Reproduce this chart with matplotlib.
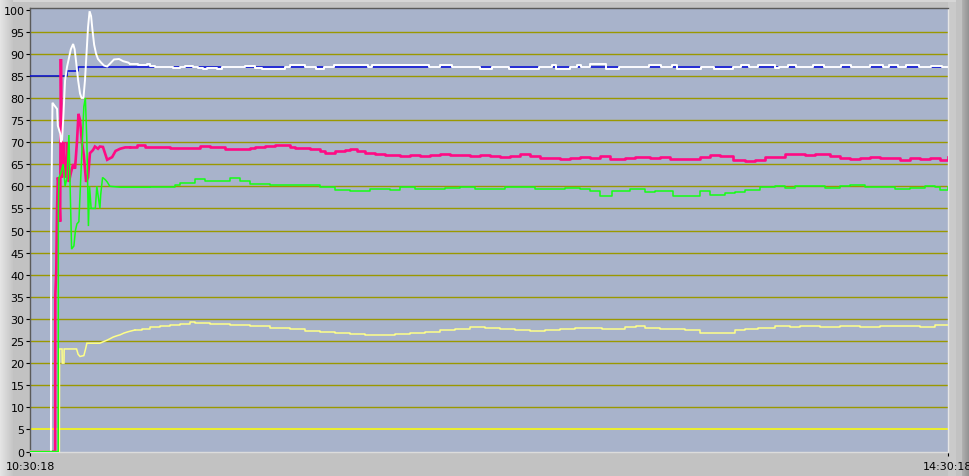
import numpy as np
import matplotlib
matplotlib.use("Agg")
import matplotlib.pyplot as plt

# ---------------- data (time in minutes after 10:30:18) ----------------
x_tick_minutes = [0, 240]
x_tick_labels = ["10:30:18", "14:30:18"]
y_ticks = list(range(0, 101, 5))
grid_levels = list(range(10, 100, 5))
limit_level = 5
transient_end = 26.0   # start-up part drawn as a continuous trace, rest as steps

blue_t = [0, 9.5, 12.4, 240]
blue_v = [85, 86, 87, 87]

white_t = [0, 5.4, 5.45, 5.8, 6.3, 7.0, 7.2, 7.8, 8.0, 8.3, 8.6, 9.1, 9.6, 10.1, 10.6, 11.2,
           11.6, 12.0, 12.5, 13.0, 13.4, 13.9, 14.3, 14.7, 15.1, 15.5, 15.9, 16.3, 16.7,
           17.2, 17.7, 18.5, 19.3, 20.1, 20.9, 21.9, 23.2, 24.3, 25.6,
           26.1, 28.2, 30.5, 31.3, 32.6, 37.3, 39.2, 40.5, 42.6, 43.9, 45.2, 46.2, 48.8,
           50.1, 56.2, 58.8, 60.6, 66.6, 67.9, 71.9, 74.7, 76.8, 79.4, 88.3, 89.4, 91.7,
           97.2, 104.3, 107.2, 110.3, 117.6, 120.8, 125.2, 133.1, 136.5, 137.5, 141.2,
           143.0, 144.1, 146.4, 150.6, 154.0, 161.9, 165.0, 167.9, 169.2, 175.4, 178.9,
           183.8, 185.9, 188.0, 190.4, 194.8, 195.9, 198.2, 200.3, 204.7, 207.6, 212.1,
           214.7, 219.7, 223.1, 224.6, 227.0, 229.1, 232.5, 235.6, 238.5, 240]
white_v = [0, 0, 51.5, 78.9, 78.3, 77.5, 73.7, 72, 70, 70.5, 75, 84, 87, 89, 91, 92.2,
           91, 88, 84, 81, 80, 80, 84, 90, 96, 99.6, 98.5, 95, 92,
           90, 88.8, 88, 87.3, 87.1, 87.8, 88.7, 88.8, 88.3, 88.0,
           87.7, 87.5, 87.6, 87.3, 87.0, 86.75, 87.0, 87.3, 87.0, 86.75, 86.6, 86.8, 86.6,
           87.0, 87.2, 86.75, 86.6, 87.0, 87.35, 87.0, 86.6, 87.0, 87.35, 87.0, 87.5, 87.35,
           87.5, 87.0, 87.5, 87.0, 86.6, 87.0, 86.55, 87.0, 87.5, 86.6, 87.0,
           87.5, 87.0, 87.6, 86.6, 87.0, 87.35, 87.0, 87.5, 86.6, 87.0, 86.6,
           87.0, 87.5, 87.0, 87.35, 86.7, 87.0, 87.35, 87.0, 87.35, 87.0, 87.35,
           87.0, 87.35, 87.0, 87.5, 87.0, 87.35, 87.0, 87.3, 87.0, 87.0]

magenta_t = [0, 6.5, 6.55, 6.8, 7.0, 7.2, 7.5, 7.8, 8.0, 8.3, 8.6, 8.9, 9.3, 9.6, 9.9, 10.1,
             10.6, 11.2, 11.7, 12.2, 12.6, 13.0, 13.5, 14.0, 14.6, 15.1, 15.6, 16.4,
             16.9, 17.7, 18.2, 19.0, 20.1, 21.4, 22.3, 23.5,
             24.8, 26.1, 27.9, 30.0, 31.3, 33.9, 36.5, 40.5, 44.4, 47.0, 49.6, 50.9,
             54.9, 57.5, 58.8, 61.4, 64.0, 66.6, 67.9, 69.2, 73.2, 75.8, 77.1, 79.7,
             82.3, 83.6, 85.5, 87.6, 90.2, 92.8, 96.7, 99.3, 101.9, 104.6, 107.2, 109.8,
             112.4, 115.0, 117.6, 120.3, 122.9, 125.5, 128.1, 130.7, 133.3, 136.0, 138.6,
             141.2, 143.8, 146.4, 149.0, 151.6, 155.6, 158.2, 162.1, 164.7, 167.3, 172.6,
             175.2, 177.8, 180.4, 183.8, 187.0, 189.6, 192.2, 196.1, 197.4, 200.0, 202.6,
             205.3, 209.2, 211.8, 214.4, 217.0, 219.7, 222.3, 224.9, 227.5, 230.1, 232.7,
             235.4, 238.0, 240]
magenta_v = [0, 0, 35.6, 41, 55, 62, 60, 52, 88.8, 62, 70, 64, 62, 70, 62, 61,
             63, 65, 64, 70, 76.4, 75, 70, 67, 61, 62, 67.5, 68.2,
             69, 68.5, 69, 68.9, 66.0, 66.6, 68.0, 68.5,
             68.8, 68.8, 69.3, 68.9, 69.0, 68.8, 68.6, 68.7, 69.2, 69.0, 68.9, 68.5,
             68.4, 68.6, 68.9, 69.1, 69.4, 69.3, 69.0, 68.6, 68.4, 68.0, 67.6, 67.9,
             68.2, 68.4, 67.9, 67.6, 67.3, 67.0, 66.8, 67.1, 66.8, 67.0, 67.2, 67.0,
             67.1, 66.9, 67.1, 66.9, 66.6, 66.9, 67.4, 66.8, 66.4, 66.5, 66.2,
             66.4, 66.7, 66.5, 66.8, 66.2, 66.3, 66.6, 66.5, 66.6, 66.2, 66.1,
             66.6, 67.0, 66.8, 66.0, 65.8, 66.0, 66.6, 66.7, 67.3, 67.4, 67.0,
             67.2, 66.9, 66.5, 66.2, 66.3, 66.6, 66.5, 66.3, 66.0, 66.4, 66.2,
             66.5, 66.0, 66.6]

green_t = [0, 7.3, 7.35, 7.5, 8.0, 8.6, 9.1, 9.6, 10.1, 10.8, 11.4, 11.8, 12.2, 12.7, 13.1,
           13.6, 14.0, 14.4, 14.8, 15.2, 15.5, 15.9, 17.0, 17.4, 18.2, 18.4, 18.9, 19.6,
           20.1, 20.8, 23.5,
           31.3, 37.9, 39.2, 43.1, 45.7, 49.6, 52.2, 54.9, 57.5, 62.7, 70.5, 75.8, 79.7,
           83.6, 88.8, 94.1, 96.7, 100.6, 104.6, 108.5, 112.4, 116.3, 120.3, 124.2, 128.1,
           132.0, 136.0, 139.9, 143.8, 146.4, 149.0, 152.2, 156.9, 160.8, 163.4, 168.1,
           175.2, 177.8, 181.7, 184.3, 186.9, 190.9, 194.8, 197.4, 200.0, 203.9, 207.9,
           211.8, 214.4, 218.3, 222.3, 226.2, 230.1, 234.1, 236.7, 238.0, 240]
green_v = [0, 0, 55, 62, 63, 65, 60, 62, 71.6, 45.8, 46.5, 50, 51.5, 52, 60,
           70, 78, 80, 70, 51, 60, 55, 55, 60, 55, 58, 62, 61.5,
           61, 60, 59.8,
           59.8, 60.2, 60.8, 61.6, 61.2, 61.3, 61.8, 61.3, 60.5, 60.4, 60.3, 59.8, 59.2,
           59.0, 59.4, 59.2, 59.8, 59.5, 59.4, 59.6, 59.8, 59.3, 59.4, 59.8, 59.8,
           59.3, 59.4, 59.6, 59.4, 58.9, 57.9, 59.0, 59.4, 58.6, 59.0, 57.9,
           59.0, 58.1, 58.5, 58.6, 59.2, 59.8, 60.1, 59.6, 60.0, 60.1, 59.6,
           60.0, 60.3, 59.9, 59.8, 59.5, 59.6, 60.0, 59.8, 59.1, 59.8]

yellow_t = [0, 7.6, 7.65, 8.3, 8.35, 8.8, 8.85, 12.1, 12.5, 13.0, 14.0, 14.4, 14.8, 18.2, 19.0,
            20.1, 20.8, 21.7, 22.7, 23.5, 24.5, 25.6, 27.4, 29.2, 31.3, 33.9, 36.5, 39.2,
            41.8, 43.1,
            47.0, 52.2, 57.5, 62.7, 67.9, 71.9, 75.8, 79.7, 83.6, 87.6, 91.5, 95.4, 99.3,
            103.3, 107.2, 111.1, 115.0, 119.0, 122.9, 126.8, 130.7, 134.6, 138.6, 142.5,
            146.4, 149.5, 152.2, 155.6, 158.4, 160.8, 164.7, 167.3, 171.3, 175.2, 184.3,
            186.9, 190.4, 194.8, 198.7, 201.3, 206.6, 211.8, 217.0, 222.3, 227.5, 232.7,
            236.7, 240]
yellow_v = [0, 0, 23.2, 23.2, 20, 20, 23.2, 23.2, 22, 21.5, 21.7, 23, 24.5, 24.5, 24.8,
            25.2, 25.5, 25.9, 26.2, 26.4, 26.8, 27.1, 27.5, 27.8, 28.1, 28.4, 28.7, 28.9,
            29.3, 29.0,
            28.9, 28.7, 28.4, 28.0, 27.7, 27.3, 27.0, 26.7, 26.6, 26.4, 26.3, 26.6, 26.8,
            27.1, 27.5, 27.8, 28.1, 27.9, 27.7, 27.5, 27.3, 27.5, 27.7, 27.9,
            27.9, 27.7, 27.8, 28.1, 28.3, 28.0, 27.8, 27.7, 27.4, 26.9, 27.4,
            27.8, 28.0, 28.3, 28.1, 28.4, 28.2, 28.3, 28.1, 28.3, 28.4, 28.2,
            28.6, 28.6]

# ---------------- figure ----------------
W, H = 970, 477
fig = plt.figure(figsize=(W / 100, H / 100), dpi=100)

# bevelled grey panel background (decoration only)
bg = np.full((H, W, 3), 194, dtype=np.uint8)
for c in range(0, 13):
    bg[:, c, :] = int(228 - (228 - 198) * c / 12)
bg[:, 948:956, :] = 202
bg[:, 956:962, :] = 194
for c in range(962, W):
    bg[:, c, :] = int(175 - (175 - 140) * (c - 962) / (W - 962))
bg[0:3, 13:956, :] = 214
fig.figimage(bg, xo=0, yo=0, origin="upper", zorder=-1)

left_px, right_px, top_px, bot_px = 30.3, 948.0, 9.0, 453.3
ax = fig.add_axes([left_px / W, (H - bot_px) / H, (right_px - left_px) / W, (bot_px - top_px) / H])
ax.set_facecolor("#a8b3cb")
ax.set_xlim(x_tick_minutes[0], x_tick_minutes[-1])
ax.set_ylim(-0.18, 100.34)

for g in grid_levels:
    ax.axhline(g, color="#9a9800", lw=1.0, zorder=1)
ax.axhline(limit_level, color="#ffff00", lw=1.1, zorder=2)


def trace(t, v, color, lw, z):
    t = np.asarray(t, float)
    v = np.asarray(v, float)
    k = int(np.searchsorted(t, transient_end))
    ax.plot(t[:k + 1], v[:k + 1], color=color, lw=lw, zorder=z,
            solid_joinstyle="miter")
    ax.plot(t[k:], v[k:], color=color, lw=lw, drawstyle="steps-post", zorder=z)


ax.plot(blue_t, blue_v, color="#0008d8", lw=1.1, drawstyle="steps-post", zorder=3)
trace(yellow_t, yellow_v, "#ffff88", 1.1, 3)
trace(magenta_t, magenta_v, "#ff0a84", 1.9, 4)
trace(white_t, white_v, "#ffffff", 1.4, 5)
trace(green_t, green_v, "#14ff14", 1.1, 6)

ax.set_yticks(y_ticks)
ax.set_yticklabels([str(v) for v in y_ticks])
ax.set_xticks(x_tick_minutes)
ax.set_xticklabels(x_tick_labels)
ax.tick_params(axis="y", direction="out", length=3.2, width=0.8, pad=1.0,
               labelsize=8, colors="black")
ax.tick_params(axis="x", direction="out", length=3.0, width=0.8, pad=3.0,
               labelsize=8, colors="black")
for lab in ax.get_xticklabels() + ax.get_yticklabels():
    lab.set_fontfamily("DejaVu Sans")

ax.spines["left"].set_color("#5a5a5a")
ax.spines["top"].set_color("#5a5a5a")
ax.spines["right"].set_color("#e6e6e6")
ax.spines["bottom"].set_color("#dcdcdc")
for s in ax.spines.values():
    s.set_linewidth(1.0)

fig.savefig("out.png", dpi=100)
